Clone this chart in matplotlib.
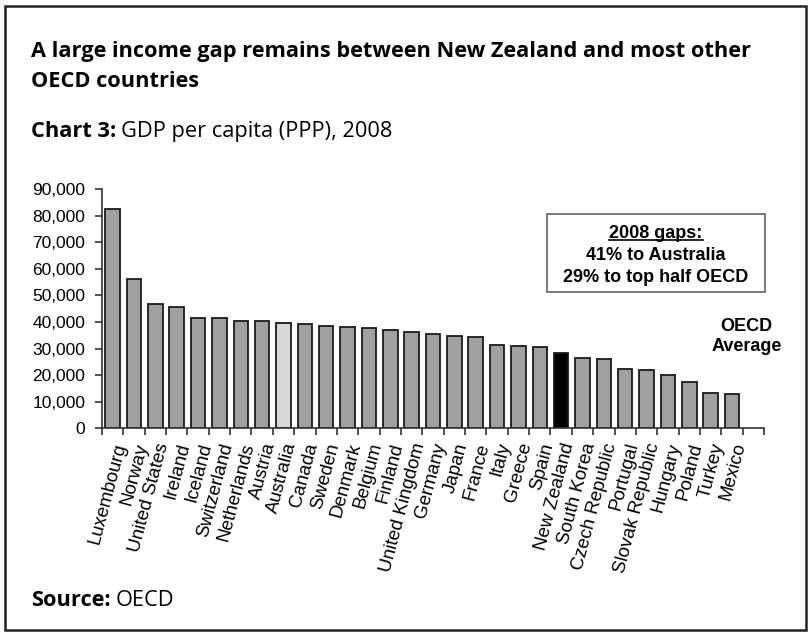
import matplotlib
matplotlib.use("Agg")
import matplotlib.pyplot as plt
from matplotlib.patches import Rectangle
from matplotlib.lines import Line2D

countries = ["Luxembourg", "Norway", "United States", "Ireland", "Iceland",
             "Switzerland", "Netherlands", "Austria", "Australia", "Canada",
             "Sweden", "Denmark", "Belgium", "Finland", "United Kingdom",
             "Germany", "Japan", "France", "Italy", "Greece", "Spain",
             "New Zealand", "South Korea", "Czech Republic", "Portugal",
             "Slovak Republic", "Hungary", "Poland", "Turkey", "Mexico"]
gdp = [82400, 56200, 46600, 45600, 41400, 41400, 40200, 40200, 39500, 39200,
       38500, 38100, 37600, 36900, 36100, 35500, 34800, 34300, 31400, 31000,
       30500, 28300, 26600, 25900, 22400, 21900, 20200, 17500, 13200, 12900]
yticks = [0, 10000, 20000, 30000, 40000, 50000, 60000, 70000, 80000, 90000]

colors = []
for c in countries:
    if c == "Australia":
        colors.append("#d8d8d8")
    elif c == "New Zealand":
        colors.append("#000000")
    else:
        colors.append("#a0a0a0")

W, H = 808, 632
fig = plt.figure(figsize=(W / 100, H / 100), dpi=100)
fig.patch.set_facecolor("white")
renderer = fig.canvas.get_renderer()

# outer frame
fig.patches.append(Rectangle((5 / W, 2 / H), 801 / W, 624 / H, transform=fig.transFigure,
                             fill=False, edgecolor="#222222", linewidth=1.8))

tfont = "Open Sans"
fs = 15.7
fig.text(31 / W, 1 - 57 / H, "A large income gap remains between New Zealand and most other",
         fontsize=fs, fontweight="bold", family=tfont, va="baseline", ha="left")
fig.text(31 / W, 1 - 86.7 / H, "OECD countries",
         fontsize=fs, fontweight="bold", family=tfont, va="baseline", ha="left")


def label_pair(y, bold_part, rest):
    t = fig.text(31 / W, 1 - y / H, bold_part, fontsize=fs, fontweight="bold",
                 family=tfont, va="baseline", ha="left")
    x1 = t.get_window_extent(renderer).x1
    fig.text((x1 + 5) / W, 1 - y / H, rest, fontsize=fs,
             family=tfont, va="baseline", ha="left")


label_pair(137.3, "Chart 3:", "GDP per capita (PPP), 2008")
label_pair(605.7, "Source:", "OECD")

ax = fig.add_axes([102 / W, 1 - 428.3 / H, 662 / W, 239.3 / H])
x = list(range(len(countries)))
ax.bar(x, gdp, width=0.68, color=colors, edgecolor="#1a1a1a", linewidth=1.3)

ax.set_xlim(-0.5, len(countries) + 0.5)
ax.set_ylim(0, 90000)
ax.set_yticks(yticks)
ax.set_yticklabels([f"{v:,}" for v in yticks], fontsize=12.5, family="Liberation Sans")
ax.set_xticks(x)
ax.set_xticklabels(countries, rotation=75, ha="right", rotation_mode="anchor",
                   fontsize=13.5, family="Liberation Sans")
ax.tick_params(axis="x", length=0, pad=9)
ax.set_xticks([i - 0.5 for i in range(len(countries) + 2)], minor=True)
ax.tick_params(axis="x", which="minor", length=5, width=1.2, color="#333333")
ax.tick_params(axis="y", length=5, width=1.2, color="#333333", pad=7)
for s in ["top", "right"]:
    ax.spines[s].set_visible(False)
for s in ["left", "bottom"]:
    ax.spines[s].set_linewidth(1.2)
    ax.spines[s].set_color("#333333")

# annotation box
ax.add_patch(Rectangle((0.672, 0.570), 0.330, 0.325, transform=ax.transAxes,
                       facecolor="white", edgecolor="#555555", linewidth=1.1, clip_on=False))
bfont = dict(fontsize=13, fontweight="bold", family="Liberation Sans", ha="center", va="center")
head = ax.text(0.837, 0.812, "2008 gaps:", transform=ax.transAxes, **bfont)
ax.text(0.837, 0.722, "41% to Australia", transform=ax.transAxes, **bfont)
ax.text(0.837, 0.630, "29% to top half OECD", transform=ax.transAxes, **bfont)
bb = head.get_window_extent(renderer)
fig.add_artist(Line2D([bb.x0 / W, bb.x1 / W], [(bb.y0 + 2) / H, (bb.y0 + 2) / H],
                      transform=fig.transFigure, color="black", linewidth=1.2))

ax.text(0.974, 0.384, "OECD\nAverage", transform=ax.transAxes, ha="center", va="center",
        fontsize=13, fontweight="bold", family="Liberation Sans", linespacing=1.17)

fig.savefig("out.png", dpi=100)
